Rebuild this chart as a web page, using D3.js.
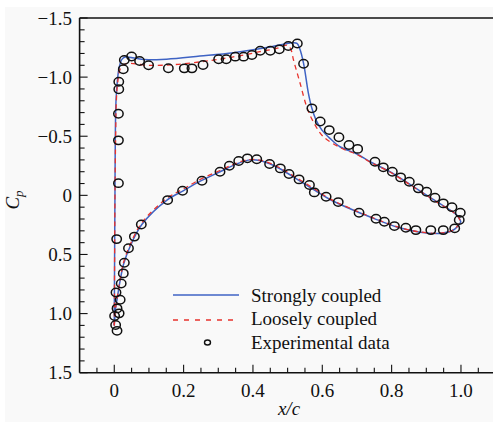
<!DOCTYPE html>
<html>
<head>
<meta charset="utf-8">
<script src="https://cdn.jsdelivr.net/npm/d3@7/dist/d3.min.js"></script>
<style>
  html, body { margin: 0; padding: 0; background: #ffffff; }
  svg { display: block; }
  text { font-family: "Liberation Serif", "Times New Roman", serif; fill: #111; }
</style>
</head>
<body>
<svg id="chart" width="493" height="422" font-family="Liberation Serif, Times New Roman, serif"></svg>
<script>
// Pressure coefficient Cp along the chord, x/c
// Strongly coupled solution: upper (suction) and lower surface, LE -> TE
const strongUpper = [
  [0.000, 1.10], [0.001, 0.50], [0.002, 0.00], [0.003, -0.50], [0.005, -0.80],
  [0.009, -0.97], [0.014, -1.08], [0.022, -1.15], [0.031, -1.17], [0.084, -1.148],
  [0.151, -1.152], [0.247, -1.178], [0.344, -1.207], [0.440, -1.250], [0.498, -1.285],
  [0.515, -1.290], [0.527, -1.285], [0.535, -1.240], [0.546, -1.117], [0.560, -0.863],
  [0.570, -0.736], [0.582, -0.636], [0.599, -0.552], [0.622, -0.482], [0.651, -0.411],
  [0.700, -0.350], [0.738, -0.284], [0.795, -0.200], [0.863, -0.073], [0.930, 0.054],
  [0.988, 0.167], [1.000, 0.225]
];
const strongLower = [
  [0.000, 1.10], [0.002, 1.02], [0.004, 0.95], [0.008, 0.88], [0.017, 0.72],
  [0.027, 0.58], [0.046, 0.43], [0.080, 0.245], [0.152, 0.040], [0.200, -0.040],
  [0.248, -0.120], [0.305, -0.200], [0.350, -0.262], [0.390, -0.300], [0.420, -0.295],
  [0.450, -0.265], [0.478, -0.225], [0.536, -0.120], [0.580, -0.040], [0.622, 0.035],
  [0.699, 0.137], [0.757, 0.205], [0.815, 0.268], [0.882, 0.312], [0.939, 0.322],
  [0.978, 0.293], [1.000, 0.225]
];
// Loosely coupled solution
const looseUpper = [
  [0.000, 1.10], [0.001, 0.50], [0.002, 0.00], [0.004, -0.50], [0.006, -0.80],
  [0.010, -0.96], [0.016, -1.06], [0.024, -1.10], [0.035, -1.115], [0.100, -1.100],
  [0.170, -1.105], [0.250, -1.130], [0.300, -1.150], [0.360, -1.180], [0.420, -1.215],
  [0.470, -1.245], [0.500, -1.270], [0.510, -1.230], [0.517, -1.145], [0.536, -0.948],
  [0.555, -0.750], [0.574, -0.623], [0.603, -0.496], [0.656, -0.398], [0.700, -0.345],
  [0.738, -0.282], [0.795, -0.197], [0.863, -0.070], [0.930, 0.056], [0.988, 0.168],
  [1.000, 0.225]
];
const looseLower = [
  [0.000, 1.10], [0.002, 1.02], [0.004, 0.95], [0.008, 0.875], [0.017, 0.71],
  [0.027, 0.565], [0.046, 0.415], [0.080, 0.230], [0.152, 0.025], [0.200, -0.055],
  [0.248, -0.135], [0.305, -0.210], [0.350, -0.270], [0.390, -0.303], [0.420, -0.297],
  [0.450, -0.270], [0.478, -0.232], [0.536, -0.130], [0.580, -0.050], [0.622, 0.030],
  [0.699, 0.133], [0.757, 0.202], [0.815, 0.265], [0.882, 0.310], [0.939, 0.320],
  [0.978, 0.292], [1.000, 0.225]
];
// Experimental data (both surfaces)
const expX = [
  0.012, 0.012, 0.012, 0.013, 0.013, 0.026, 0.029, 0.050, 0.073, 0.099, 0.156, 0.202,
  0.224, 0.256, 0.301, 0.323, 0.349, 0.373, 0.397, 0.421, 0.450, 0.476, 0.502, 0.528,
  0.546, 0.570, 0.594, 0.620, 0.648, 0.677, 0.702, 0.752, 0.776, 0.802, 0.826, 0.851,
  0.877, 0.901, 0.925, 0.949, 0.974, 0.998,
  0.004, 0.008, 0.001, 0.014, 0.008, 0.017, 0.005, 0.020, 0.026, 0.029, 0.041, 0.058,
  0.078, 0.007, 0.154, 0.197, 0.253, 0.305, 0.332, 0.359, 0.384, 0.411, 0.448, 0.479,
  0.504, 0.533, 0.563, 0.577, 0.611, 0.646, 0.706, 0.755, 0.779, 0.808, 0.841, 0.870,
  0.913, 0.949, 0.982, 0.995
];
const expCp = [
  -0.103, -0.465, -0.690, -0.897, -0.961, -1.066, -1.145, -1.174, -1.136, -1.100, -1.075, -1.074,
  -1.074, -1.102, -1.151, -1.151, -1.173, -1.173, -1.187, -1.223, -1.223, -1.235, -1.263, -1.284,
  -1.113, -0.736, -0.624, -0.552, -0.491, -0.426, -0.393, -0.284, -0.237, -0.200, -0.152, -0.115,
  -0.059, -0.030, 0.020, 0.068, 0.100, 0.147,
  1.097, 1.146, 1.021, 0.998, 0.956, 0.883, 0.821, 0.745, 0.660, 0.570, 0.448, 0.349,
  0.247, 0.370, 0.040, -0.039, -0.124, -0.200, -0.250, -0.290, -0.313, -0.305, -0.265, -0.228,
  -0.180, -0.135, -0.087, -0.025, 0.012, 0.057, 0.147, 0.198, 0.223, 0.260, 0.274, 0.294,
  0.294, 0.294, 0.279, 0.209
];
const xMajorTicks = [0, 0.2, 0.4, 0.6, 0.8, 1.0];
const xTickLabels = ["0", "0.2", "0.4", "0.6", "0.8", "1.0"];
const yMajorTicks = [-1.5, -1.0, -0.5, 0, 0.5, 1.0, 1.5];
const yTickLabels = ["\u22121.5", "\u22121.0", "\u22120.5", "0", "0.5", "1.0", "1.5"];
const legendLabels = ["Strongly coupled", "Loosely coupled", "Experimental data"];

const svg = d3.select("#chart");
const W = 493, H = 422;
const plotLeft = 79.6, plotTop = 18, plotBottom = 372.7;

const x = d3.scaleLinear().domain([-0.1, 1.1]).range([plotLeft, plotLeft + 1.2 * 346.7]);
const y = d3.scaleLinear().domain([-1.5, 1.5]).range([plotTop, plotBottom]);

// page background
svg.append("rect").attr("x", 5).attr("y", 7).attr("width", W).attr("height", H)
  .attr("fill", "#f9f9f9");

svg.append("clipPath").attr("id", "plotClip")
  .append("rect").attr("x", plotLeft).attr("y", plotTop)
  .attr("width", W - plotLeft).attr("height", plotBottom - plotTop);

// axes frame
const axisColor = "#111";
svg.append("line").attr("x1", plotLeft).attr("x2", W).attr("y1", plotTop).attr("y2", plotTop)
  .attr("stroke", axisColor).attr("stroke-width", 1.6);
svg.append("line").attr("x1", plotLeft).attr("x2", plotLeft).attr("y1", plotTop).attr("y2", plotBottom)
  .attr("stroke", axisColor).attr("stroke-width", 1.6);
svg.append("line").attr("x1", plotLeft).attr("x2", W).attr("y1", plotBottom).attr("y2", plotBottom)
  .attr("stroke", axisColor).attr("stroke-width", 1.6);

// x ticks (inward)
const xMinor = d3.range(-0.05, 1.1, 0.05).filter(v => !xMajorTicks.some(m => Math.abs(m - v) < 1e-6));
svg.append("g").selectAll("line").data(xMinor).join("line")
  .attr("x1", d => x(d)).attr("x2", d => x(d))
  .attr("y1", plotBottom).attr("y2", plotBottom - 5)
  .attr("stroke", axisColor).attr("stroke-width", 1.1);
svg.append("g").selectAll("line").data(xMajorTicks).join("line")
  .attr("x1", d => x(d)).attr("x2", d => x(d))
  .attr("y1", plotBottom).attr("y2", plotBottom - 8)
  .attr("stroke", axisColor).attr("stroke-width", 1.1);
svg.append("g").selectAll("text").data(xMajorTicks).join("text")
  .attr("x", d => x(d)).attr("y", 397)
  .attr("text-anchor", "middle").attr("font-size", 19)
  .text((d, i) => xTickLabels[i]);

// y ticks (inward)
const yMinor = d3.range(-1.4, 1.5, 0.1).filter(v => !yMajorTicks.some(m => Math.abs(m - v) < 1e-6));
svg.append("g").selectAll("line").data(yMinor).join("line")
  .attr("x1", plotLeft).attr("x2", plotLeft + 5)
  .attr("y1", d => y(d)).attr("y2", d => y(d))
  .attr("stroke", axisColor).attr("stroke-width", 1.1);
svg.append("g").selectAll("line").data(yMajorTicks).join("line")
  .attr("x1", plotLeft).attr("x2", plotLeft + 8)
  .attr("y1", d => y(d)).attr("y2", d => y(d))
  .attr("stroke", axisColor).attr("stroke-width", 1.1);
svg.append("g").selectAll("text").data(yMajorTicks).join("text")
  .attr("x", 72).attr("y", d => y(d))
  .attr("dy", "0.35em")
  .attr("text-anchor", "end").attr("font-size", 19)
  .text((d, i) => yTickLabels[i]);

// axis titles
svg.append("text").attr("x", 289).attr("y", 415)
  .attr("text-anchor", "middle").attr("font-size", 19).attr("font-style", "italic")
  .text("x/c");

const yt = svg.append("text")
  .attr("transform", "translate(19,200) rotate(-90)")
  .attr("text-anchor", "middle").attr("font-size", 19).attr("font-style", "italic");
yt.append("tspan").text("C");
yt.append("tspan").attr("font-size", 13).attr("dy", 4).text("p");

// solution curves
const line = d3.line().x(d => x(d[0])).y(d => y(d[1])).curve(d3.curveCatmullRom.alpha(0.5));
const plot = svg.append("g").attr("clip-path", "url(#plotClip)");
const blue = "#3f63c4", red = "#e8322c";

[strongUpper, strongLower].forEach(s => {
  plot.append("path").datum(s).attr("d", line)
    .attr("fill", "none").attr("stroke", blue).attr("stroke-width", 1.5);
});
[looseUpper, looseLower].forEach(s => {
  plot.append("path").datum(s).attr("d", line)
    .attr("fill", "none").attr("stroke", red).attr("stroke-width", 1.3)
    .attr("stroke-dasharray", "5,4");
});

// experimental points
plot.append("g").selectAll("ellipse").data(expX).join("ellipse")
  .attr("cx", d => x(d)).attr("cy", (d, i) => y(expCp[i]))
  .attr("rx", 4.7).attr("ry", 4.2)
  .attr("fill", "none").attr("stroke", "#111").attr("stroke-width", 1.5);

// legend
const lg = svg.append("g");
lg.append("line").attr("x1", 173).attr("x2", 239).attr("y1", 295).attr("y2", 295)
  .attr("stroke", blue).attr("stroke-width", 1.5);
lg.append("line").attr("x1", 173).attr("x2", 239).attr("y1", 320).attr("y2", 320)
  .attr("stroke", red).attr("stroke-width", 1.3).attr("stroke-dasharray", "5,6");
lg.append("ellipse").attr("cx", 207.5).attr("cy", 342.5).attr("rx", 3).attr("ry", 2.5)
  .attr("fill", "none").attr("stroke", "#111").attr("stroke-width", 1.4);
lg.selectAll("text").data(legendLabels).join("text")
  .attr("x", 251).attr("y", (d, i) => 301.5 + i * 23.5)
  .attr("font-size", 19)
  .text(d => d);
</script>
</body>
</html>
